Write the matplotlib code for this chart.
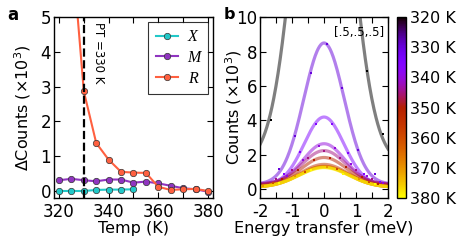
import numpy as np
import matplotlib
matplotlib.use('Agg')
import matplotlib.pyplot as plt
from matplotlib.ticker import MultipleLocator
from matplotlib import cm, colors

plt.rcParams['font.family'] = 'DejaVu Sans'
plt.rcParams['axes.unicode_minus'] = False
plt.rcParams['font.size'] = 11.5

# panel a: intensity change vs temperature
temps_a = [320, 325, 330, 335, 340, 345, 350, 355, 360, 365, 370, 375, 380]
x_temps = [320, 325, 330, 335, 340, 345, 350]
x_vals = [0.0, 0.0, 0.0, 0.03, 0.04, 0.04, 0.05]
m_vals = [0.31, 0.35, 0.31, 0.28, 0.33, 0.33, 0.24, 0.27, 0.22, 0.15, 0.08, 0.05, -0.02]
r_vals = [12.0, 7.2, 2.87, 1.38, 0.90, 0.55, 0.53, 0.52, 0.12, 0.03, 0.05, 0.06, 0.0]

# panel b: fitted peaks at [.5,.5,.5] (gaussian + flat background)
temps_b = [320, 330, 335, 340, 345, 350, 355, 360, 365, 370, 375, 380]
amp_b = [26.0, 8.2, 3.95, 2.35, 1.95, 1.6, 1.3, 1.22, 1.2, 1.18, 1.16, 1.14]
wid_b = [0.78, 0.63, 0.62, 0.65, 0.68, 0.70, 0.75, 0.77, 0.77, 0.78, 0.78, 0.78]
cen_b = [-0.04, 0.0, 0.0, 0.0, 0.0, 0.0, 0.0, 0.0, 0.0, 0.0, 0.0, 0.0]
bg_b = [1.5, 0.3, 0.25, 0.3, 0.3, 0.25, 0.15, 0.12, 0.12, 0.12, 0.12, 0.12]

# measured points in panel b
pts_b = {
    320: ([-1.65, 1.35, 1.85], [4.0, 6.9, 3.2]),
    330: ([-1.42, -0.92, -0.42, 0.08, 0.57, 1.07, 1.6], [1.17, 3.12, 6.78, 8.42, 5.9, 2.28, 0.9]),
    335: ([-1.24, -0.74, -0.24, 0.25, 0.75, 1.25, 1.75], [0.9, 2.14, 3.8, 3.8, 2.1, 0.9, 0.4]),
    340: ([-1.16, -0.66, -0.16, 0.34, 0.84, 1.34, 1.84], [0.8, 1.7, 2.53, 2.4, 1.45, 0.75, 0.35]),
    345: ([-1.5, -1.0, -0.5, 0.0, 0.5, 1.0, 1.5], [0.6, 1.1, 1.8, 2.2, 1.8, 1.1, 0.6]),
    350: ([-1.3, -0.8, -0.3, 0.2, 0.7, 1.2, 1.7], [0.6, 1.1, 1.7, 1.8, 1.3, 0.7, 0.3]),
    360: ([-1.6, -0.6, 0.4, 1.4], [0.35, 1.0, 1.2, 0.45]),
    370: ([-1.9, -0.9, 0.1, 1.1], [0.2, 0.75, 1.3, 0.6]),
    380: ([-1.4, -0.4, 0.6, 1.6], [0.35, 1.1, 0.9, 0.3]),
}

fig = plt.figure(figsize=(4.63, 2.45), dpi=100)
ax1 = fig.add_axes([0.1166, 0.192, 0.3434, 0.738])
ax2 = fig.add_axes([0.5616, 0.192, 0.2765, 0.738])
cax = fig.add_axes([0.8575, 0.192, 0.0194, 0.738])

mk = dict(marker='o', ms=4.6, mec='#333333', mew=0.5, lw=1.5)
ax1.plot(x_temps, x_vals, color='#22c8c8', label='X', **mk)
ax1.plot(temps_a, m_vals, color='#9035c0', label='M', **mk)
ax1.plot(temps_a, r_vals, color='#ff6040', label='R', **mk)
ax1.axvline(330, color='k', ls='--', lw=1.6)
ax1.text(333.3, 4.85, 'PT =330 K', rotation=270, va='top', ha='left', fontsize=8.5)
ax1.set_xlim(318, 382)
ax1.set_ylim(-0.2, 5)
ax1.set_xticks([320, 340, 360, 380])
ax1.xaxis.set_minor_locator(MultipleLocator(10))
ax1.set_yticks([0, 1, 2, 3, 4, 5])
ax1.set_xlabel('Temp (K)')
ax1.set_ylabel(r'$\Delta$Counts ($\times10^3$)')
ax1.xaxis.set_label_coords(0.5, -0.125)
ax1.yaxis.set_label_coords(-0.135, 0.5)
leg = ax1.legend(loc='upper right', prop={'family': 'Liberation Serif', 'style': 'italic', 'size': 11.5},
                 fancybox=False, edgecolor='k', handlelength=1.4, handletextpad=0.6,
                 borderaxespad=0.3, labelspacing=0.3, borderpad=0.45)
leg.get_frame().set_linewidth(0.8)

cmap = plt.get_cmap('gnuplot')
norm = colors.Normalize(320, 380)
e = np.linspace(-2, 2, 300)
for t, a, w, c, b in zip(temps_b, amp_b, wid_b, cen_b, bg_b):
    col = cmap(norm(t))
    ax2.plot(e, b + a * np.exp(-(e - c) ** 2 / (2 * w ** 2)), color=col, alpha=0.5, lw=2.3)
for t, (px, py) in pts_b.items():
    ax2.plot(px, py, 's', color=cmap(norm(t)), ms=1.7, mew=0)
ax2.text(1.88, 9.1, '[.5,.5,.5]', ha='right', va='center', fontsize=8.5)
ax2.set_xlim(-2, 2)
ax2.set_ylim(-0.5, 10)
ax2.set_xticks([-2, -1, 0, 1, 2])
ax2.xaxis.set_minor_locator(MultipleLocator(0.5))
ax2.set_yticks([0, 2, 4, 6, 8, 10])
ax2.set_xlabel('Energy transfer (meV)')
ax2.set_ylabel(r'Counts ($\times10^3$)')
ax2.xaxis.set_label_coords(0.5, -0.125)
ax2.yaxis.set_label_coords(-0.125, 0.5)

for ax in (ax1, ax2):
    ax.tick_params(which='both', direction='in', top=True, right=True, length=4, width=0.8,
                   labelsize=12)
    ax.tick_params(axis='y', pad=2)
    for s in ax.spines.values():
        s.set_linewidth(1.0)

sm = cm.ScalarMappable(norm=norm, cmap=cmap)
cb = fig.colorbar(sm, cax=cax, ticks=list(range(320, 381, 10)))
cb.ax.invert_yaxis()
cb.ax.set_yticklabels(['%d K' % t for t in range(320, 381, 10)])
cb.ax.tick_params(length=0, labelsize=11.5, pad=3)
cb.outline.set_linewidth(1.0)

fig.text(0.015, 0.94, 'a', fontsize=12, fontweight='bold', va='center')
fig.text(0.482, 0.94, 'b', fontsize=11.5, fontweight='bold', va='center')

plt.savefig('out.png', dpi=100)
plt.close()
